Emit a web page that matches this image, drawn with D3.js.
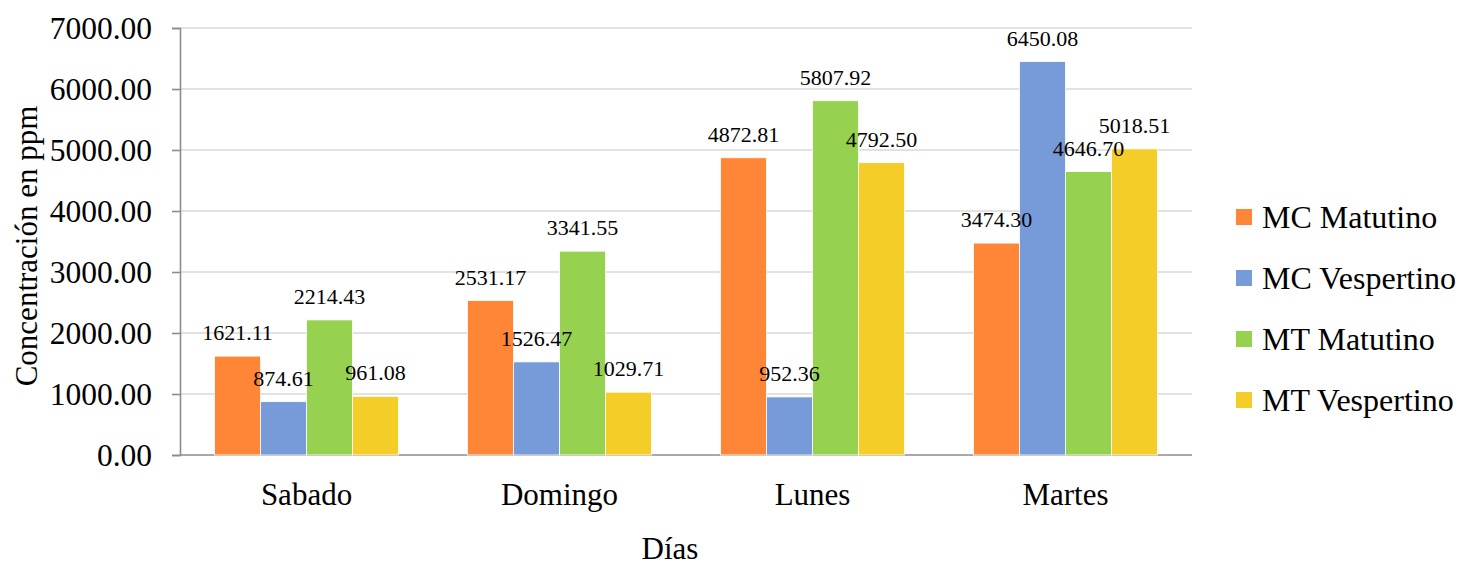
<!DOCTYPE html>
<html>
<head>
<meta charset="utf-8">
<script src="https://cdn.jsdelivr.net/npm/d3@7"></script>
<style>
  html, body { margin: 0; padding: 0; background: #fff; }
  svg { display: block; font-family: "Liberation Serif", "Times New Roman", serif; }
</style>
</head>
<body>
<svg id="chart" width="1460" height="567"></svg>
<script>
// Concentration per day and sampling shift
const days = ["Sabado", "Domingo", "Lunes", "Martes"];
const seriesNames = ["MC Matutino", "MC Vespertino", "MT Matutino", "MT Vespertino"];
const mcMatutino   = [1621.11, 2531.17, 4872.81, 3474.30];
const mcVespertino = [874.61, 1526.47, 952.36, 6450.08];
const mtMatutino   = [2214.43, 3341.55, 5807.92, 4646.70];
const mtVespertino = [961.08, 1029.71, 4792.50, 5018.51];
const yTicks = [0, 1000, 2000, 3000, 4000, 5000, 6000, 7000];
const colors = ["#FF8636", "#779BD9", "#96D250", "#F5CD29"];

const seriesValues = [mcMatutino, mcVespertino, mtMatutino, mtVespertino];
const FONT = "'Liberation Serif', 'Times New Roman', serif";

const svg = d3.select("#chart");
const plot = { left: 180, right: 1192, top: 28, bottom: 455 };

const x0 = d3.scaleBand().domain(days).range([plot.left, plot.right])
  .paddingInner(0.273).paddingOuter(0.1365);
const x1 = d3.scaleBand().domain(seriesNames).range([0, x0.bandwidth()]);
const y = d3.scaleLinear().domain([0, 7000]).range([plot.bottom, plot.top]);

// Gridlines
svg.append("g")
  .selectAll("line").data(yTicks.filter(t => t > 0)).join("line")
  .attr("x1", plot.left).attr("x2", plot.right)
  .attr("y1", d => y(d)).attr("y2", d => y(d))
  .attr("stroke", "#d9d9d9").attr("stroke-width", 1.6);

// Y axis
const yAxis = svg.append("g").attr("transform", `translate(${plot.left},0)`)
  .call(d3.axisLeft(y).tickValues(yTicks).tickFormat(d3.format(".2f")).tickSize(8).tickPadding(20));
yAxis.attr("font-family", FONT);
yAxis.select(".domain").attr("stroke", "#8c8c8c").attr("stroke-width", 1.6);
yAxis.selectAll(".tick line").attr("stroke", "#8c8c8c").attr("stroke-width", 1.6);
yAxis.selectAll(".tick text").attr("font-size", 31.5).attr("fill", "#000");

// X baseline and day labels
const xAxis = svg.append("g").attr("transform", `translate(0,${plot.bottom})`)
  .call(d3.axisBottom(x0).tickSize(0).tickPadding(28));
xAxis.attr("font-family", FONT);
xAxis.select(".domain").attr("stroke", "#8c8c8c").attr("stroke-width", 1.6)
  .attr("d", `M${plot.left},0H${plot.right}`);
xAxis.selectAll(".tick text").attr("font-size", 31).attr("fill", "#000");

// Bars
const rows = [];
days.forEach((d, i) => seriesNames.forEach((s, j) => rows.push({ day: d, series: s, value: seriesValues[j][i], color: colors[j] })));

svg.append("g").selectAll("rect").data(rows).join("rect")
  .attr("x", d => x0(d.day) + x1(d.series))
  .attr("y", d => y(d.value))
  .attr("width", x1.bandwidth())
  .attr("height", d => y(0) - y(d.value))
  .attr("fill", d => d.color)
  .attr("stroke", "#fff").attr("stroke-width", 0.8);

// Value labels
svg.append("g").selectAll("text").data(rows).join("text")
  .attr("x", d => x0(d.day) + x1(d.series) + x1.bandwidth() / 2)
  .attr("y", d => y(d.value) - 16)
  .attr("text-anchor", "middle")
  .attr("font-size", 22)
  .attr("fill", "#000")
  .text(d => d3.format(".2f")(d.value));

// Axis titles
svg.append("text")
  .attr("transform", `translate(37,246) rotate(-90)`)
  .attr("text-anchor", "middle").attr("font-size", 31).attr("fill", "#000")
  .text("Concentración en ppm");

svg.append("text")
  .attr("x", 670).attr("y", 559)
  .attr("text-anchor", "middle").attr("font-size", 31).attr("fill", "#000")
  .text("Días");

// Legend
const legend = svg.append("g").attr("transform", "translate(1236,217)");
const items = legend.selectAll("g").data(seriesNames).join("g")
  .attr("transform", (d, i) => `translate(0,${i * 61})`);
items.append("rect").attr("x", 0).attr("y", -8).attr("width", 16).attr("height", 16)
  .attr("fill", (d, i) => colors[i]);
items.append("text").attr("x", 26).attr("y", 11).attr("font-size", 32).attr("fill", "#000")
  .text(d => d);
</script>
</body>
</html>
